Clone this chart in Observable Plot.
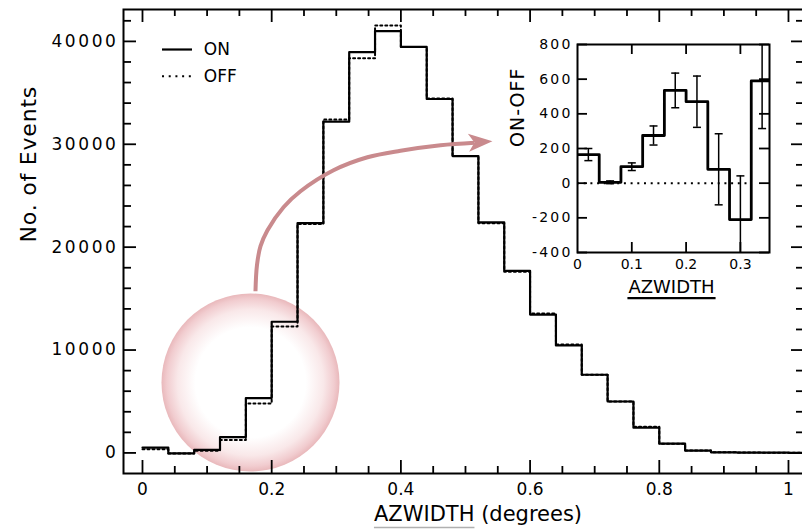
<!DOCTYPE html>
<html><head><meta charset="utf-8">
<script src="https://cdn.jsdelivr.net/npm/d3@7"></script>
<script src="https://cdn.jsdelivr.net/npm/@observablehq/plot@0.6"></script>
<style>
html,body{margin:0;padding:0;background:#fff;overflow:hidden;}
#wrap{position:relative;width:802px;height:529px;overflow:hidden;background:#fff;}
#main{position:absolute;left:0;top:0;}
#inset{position:absolute;left:500px;top:20px;}
#wrap svg{max-width:none !important;}
</style></head><body>
<div id="wrap"><div id="main"></div><div id="inset"></div></div>
<script>
// ---------- data ----------
const binStart = [0.00,0.04,0.08,0.12,0.16,0.20,0.24,0.28,0.32,0.36,0.40,0.44,0.48,0.52,0.56,0.60,0.64,0.68,0.72,0.76,0.80,0.84,0.88,0.92,0.96,1.00];
const binWidth = 0.04;
const onCounts  = [520,-50,300,1530,5330,12750,22330,32200,38950,41000,39460,34400,28850,22400,17700,13450,10450,7600,5000,2450,900,230,60,30,20,10];
const offCounts = [360,-50,205,1255,4795,12280,22250,32410,38360,41550,39460,34450,28850,22330,17600,13550,10550,7600,5000,2550,900,230,60,30,20,10];

const insetBinStart = [0.00,0.04,0.08,0.12,0.16,0.20,0.24,0.28,0.32];
const onMinusOff    = [165,5,95,275,535,470,80,-210,590];
const onMinusOffErr = [35,8,22,55,100,148,205,252,275];

const xTickLabels = [0,0.2,0.4,0.6,0.8,1];
const xMinorTicks = [0.05,0.1,0.15,0.25,0.3,0.35,0.45,0.5,0.55,0.65,0.7,0.75,0.85,0.9,0.95];
const yTickLabels = [0,10000,20000,30000,40000];
const yMinorTicks = [2000,4000,6000,8000,12000,14000,16000,18000,22000,24000,26000,28000,32000,34000,36000,38000,42000];

const insetXTicks = [0.1,0.2,0.3];
const insetXLabels = [0,0.1,0.2,0.3];
const insetYTicks = [-400,-200,0,200,400,600,800];

const legendOn  = [{label:"ON",  y:39211}];
const legendOff = [{label:"OFF", y:36615}];

// annotation (pink circle + curved arrow), in data coordinates of the main plot
const glowCircle = [{x:0.1672, y:6843}];
const arrowPath = [
  {x:0.1749,y:15718},{x:0.1772,y:18245},{x:0.1827,y:20092},{x:0.1935,y:21647},
  {x:0.2183,y:23883},{x:0.2446,y:25438},{x:0.2957,y:27479},{x:0.3483,y:28742},
  {x:0.3994,y:29374},{x:0.4613,y:29909},{x:0.5139,y:30152}
];
const arrowHead = [{x:0.5232, y:30220}];

// ---------- helpers ----------
function steps(starts, vals, w) {
  const pts = starts.map((x,i)=>({x, v: vals[i]}));
  pts.push({x: starts[starts.length-1] + w, v: vals[vals.length-1]});
  return pts;
}
const onSteps = steps(binStart, onCounts, binWidth);
const offSteps = steps(binStart, offCounts, binWidth);
const diffSteps = steps(insetBinStart, onMinusOff, binWidth);
const diffBars = insetBinStart.map((s,i)=>({x: s + binWidth/2, lo: onMinusOff[i]-onMinusOffErr[i], hi: onMinusOff[i]+onMinusOffErr[i]}));

const FONT = "DejaVu Sans, sans-serif";
const pink = "#c98a8d";
const dart = {draw(ctx){ ctx.moveTo(12,0); ctx.lineTo(-12,-9); ctx.lineTo(-6,0); ctx.lineTo(-12,9); ctx.closePath(); }};
const cap = {draw(ctx){ ctx.moveTo(-4,0); ctx.lineTo(4,0); }};

function relRect(el, svg) {
  const r = el.getBoundingClientRect(), s = svg.getBoundingClientRect();
  return {x: r.left - s.left, y: r.top - s.top, w: r.width, h: r.height};
}

// ---------- main plot ----------
const W = 806, H = 529, mL = 123, mR = 2, mT = 9, mB = 56;
const pH = H - mT - mB, pW = W - mL - mR;

const main = Plot.plot({
  width: W, height: H,
  marginLeft: mL, marginRight: mR, marginTop: mT, marginBottom: mB,
  x: {domain: [-0.0294, 1.0248]},
  y: {domain: [-2000, 43100]},
  style: {fontFamily: FONT, fontSize: "17px", color: "black", background: "transparent", overflow: "visible"},
  marks: [
    Plot.dot(glowCircle, {x:"x", y:"y", r: 89, fill: "url(#glow)", stroke: "none"}),
    Plot.line(offSteps, {x:"x", y:"v", curve:"step-after", stroke:"black", strokeWidth:2, strokeDasharray:"2,3", clip:true}),
    Plot.line(onSteps, {x:"x", y:"v", curve:"step-after", stroke:"black", strokeWidth:2.2, clip:true}),
    Plot.frame({stroke:"black", strokeWidth:2}),
    Plot.ruleX(xTickLabels, {x: d=>d, insetTop: pH-13, strokeWidth:1.8}),
    Plot.ruleX(xMinorTicks, {x: d=>d, insetTop: pH-7, strokeWidth:1.8}),
    Plot.ruleX(xTickLabels, {x: d=>d, insetBottom: pH-13, strokeWidth:1.8}),
    Plot.ruleX(xMinorTicks, {x: d=>d, insetBottom: pH-7, strokeWidth:1.8}),
    Plot.ruleY(yTickLabels, {y: d=>d, insetRight: pW-13, strokeWidth:1.8}),
    Plot.ruleY(yMinorTicks, {y: d=>d, insetRight: pW-8, strokeWidth:1.8}),
    Plot.ruleY(yTickLabels, {y: d=>d, insetLeft: pW-13, strokeWidth:1.8}),
    Plot.ruleY(yMinorTicks, {y: d=>d, insetLeft: pW-8, strokeWidth:1.8}),
    Plot.axisX(xTickLabels, {tickSize:0, tickPadding:9, fontSize:17, tickFormat: d=>String(d), label:null}),
    Plot.axisY(yTickLabels, {tickSize:0, tickPadding:5, fontSize:17, tickFormat: d=>String(d), label:null}),
    Plot.text(["AZWIDTH (degrees)"], {frameAnchor:"bottom", dx:14, dy:41, fontSize:21, lineAnchor:"middle", fill:"black"}),
    Plot.text(["No. of Events"], {frameAnchor:"left", rotate:-90, dx:-95, dy:1, fontSize:22, lineAnchor:"middle", fill:"black"}),
    // legend
    Plot.ruleY(legendOn,  {y:"y", x1:0.031, x2:0.0774, stroke:"black", strokeWidth:2.2}),
    Plot.ruleY(legendOff, {y:"y", x1:0.031, x2:0.0774, stroke:"black", strokeWidth:2, strokeDasharray:"2,4.7"}),
    Plot.text(legendOn.concat(legendOff), {x:0.0949, y:"y", text:"label", textAnchor:"start", lineAnchor:"middle", fontSize:17, fill:"black"}),
    // arrow
    Plot.line(arrowPath, {x:"x", y:"y", curve:"catmull-rom", stroke:pink, strokeWidth:4, strokeLinecap:"butt"}),
    Plot.dot(arrowHead, {x:"x", y:"y", r:10, symbol: dart, fill: pink, stroke:"none", rotate:-4})
  ]
});
document.getElementById("main").appendChild(main);
main.style.maxWidth = "none";

const defs = d3.select(main).insert("defs", ":first-child");
const grad = defs.append("radialGradient").attr("id","glow");
[[0,"#ffffff"],[0.62,"#ffffff"],[0.82,"#f9e8e9"],[0.94,"#f1cccf"],[1,"#e9b8bb"]].forEach(([o,c])=>
  grad.append("stop").attr("offset", o).attr("stop-color", c));

d3.select(main).selectAll('g[aria-label="y-axis tick label"] text').attr("letter-spacing", "2.6");
d3.select(main).selectAll("text").filter(function(){return this.textContent==="No. of Events";}).attr("letter-spacing","0.8");

d3.select(main).selectAll("text").filter(function(){return this.textContent==="AZWIDTH (degrees)";}).each(function(){
  const r = relRect(this, main);
  const len = this.getSubStringLength(0,7);
  const y = Math.min(r.y + r.h + 2, 527.5);
  d3.select(main).append("line").attr("x1", r.x).attr("x2", r.x+len).attr("y1", y).attr("y2", y)
    .attr("stroke","#b0b0b0").attr("stroke-width",1.5);
});

// ---------- inset ----------
const iW = 290, iH = 290, imL = 77, imR = 21, imT = 24, imB = 58;
const ipH = iH - imT - imB, ipW = iW - imL - imR;
const inset = Plot.plot({
  width: iW, height: iH,
  marginLeft: imL, marginRight: imR, marginTop: imT, marginBottom: imB,
  x: {domain: [0, 0.3536]},
  y: {domain: [-400, 800]},
  style: {fontFamily: FONT, fontSize: "14px", color: "black", background: "transparent", overflow: "visible"},
  marks: [
    Plot.ruleY([0], {x1: 0, x2: 0.32, stroke:"black", strokeWidth:2, strokeDasharray:"2,4.7"}),
    Plot.ruleX(diffBars, {x:"x", y1:"lo", y2:"hi", stroke:"black", strokeWidth:1.5, clip:true}),
    Plot.dot(diffBars, {x:"x", y:"lo", r:4, symbol: cap, stroke:"black", strokeWidth:1.5, clip:true}),
    Plot.dot(diffBars, {x:"x", y:"hi", r:4, symbol: cap, stroke:"black", strokeWidth:1.5, clip:true}),
    Plot.line(diffSteps, {x:"x", y:"v", curve:"step-after", stroke:"black", strokeWidth:2.8, clip:true}),
    Plot.frame({stroke:"black", strokeWidth:2}),
    Plot.ruleX(insetXTicks, {x:d=>d, insetTop: ipH-10, strokeWidth:1.8}),
    Plot.ruleX(insetXTicks, {x:d=>d, insetBottom: ipH-10, strokeWidth:1.8}),
    Plot.ruleY(insetYTicks, {y:d=>d, insetRight: ipW-10, strokeWidth:1.8}),
    Plot.ruleY(insetYTicks, {y:d=>d, insetLeft: ipW-10, strokeWidth:1.8}),
    Plot.axisX(insetXLabels, {tickSize:0, tickPadding:7, fontSize:14, tickFormat:d=>String(d), label:null}),
    Plot.axisY(insetYTicks, {tickSize:0, tickPadding:5, fontSize:14, tickFormat:d=>String(d), label:null}),
    Plot.text(["ON-OFF"], {frameAnchor:"left", rotate:-90, dx:-60, dy:-1.5, fontSize:19, lineAnchor:"middle", fill:"black"}),
    Plot.text(["AZWIDTH"], {frameAnchor:"bottom", dx:-2, dy:35, fontSize:18, lineAnchor:"middle", fill:"black"})
  ]
});
document.getElementById("inset").appendChild(inset);
inset.style.maxWidth = "none";
d3.select(inset).selectAll('g[aria-label="y-axis tick label"] text').attr("letter-spacing", "2.2");
d3.select(inset).selectAll("text").filter(function(){return this.textContent==="ON-OFF";}).attr("letter-spacing","1");
d3.select(inset).selectAll("text").filter(function(){return this.textContent==="AZWIDTH";}).each(function(){
  const r = relRect(this, inset);
  const y = r.y + r.h + 0.8;
  d3.select(inset).append("line").attr("x1", r.x-1).attr("x2", r.x+r.w+1).attr("y1", y).attr("y2", y)
    .attr("stroke","black").attr("stroke-width",2.2);
});
</script>
</body></html>
